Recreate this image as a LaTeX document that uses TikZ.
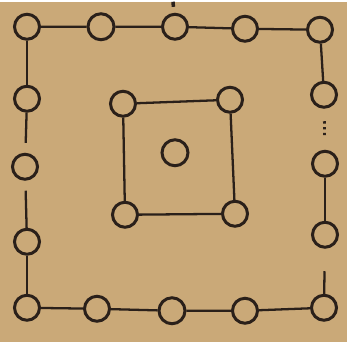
\documentclass[tikz,border=0pt]{standalone}
\usepackage{tikz}
\usetikzlibrary{calc}

\definecolor{paper}{RGB}{202,169,120}
\definecolor{ink}{RGB}{42,32,26}

\begin{document}
\begin{tikzpicture}[
    x=0.02cm, y=-0.02cm,
    % Node styles
    dot/.style={draw=ink, circle, line width=1.7pt, inner sep=0pt, minimum size=0.5cm},
    bigdot/.style={dot, minimum size=0.52cm},
    link/.style={draw=ink, line width=1.3pt},
    gap/.style={link, dotted, line width=1.6pt}
]

% Paper
\fill[paper] (0,0) rectangle (347,340);

% Outer square, top row
\node[dot] (o1) at (27,25) {};
\node[bigdot] (o2) at (101,25) {};
\node[dot] (o3) at (175,25) {};
\node[dot] (o4) at (245,27) {};
\node[dot] (o5) at (320,28) {};

% Outer square, right side
\node[dot] (r1) at (324,93) {};
\node[dot] (r2) at (325,162) {};
\node[dot] (r3) at (325,233) {};

% Outer square, bottom row
\node[dot] (b1) at (27,306) {};
\node[dot] (b2) at (97,307) {};
\node[bigdot] (b3) at (172,309) {};
\node[dot] (b4) at (245,309) {};
\node[dot] (b5) at (324,306) {};

% Outer square, left side
\node[dot] (l1) at (27,97) {};
\node[dot] (l2) at (25,165) {};
\node[dot] (l3) at (27,240) {};

% Inner square and centre
\node[dot] (i1) at (123,102) {};
\node[dot] (i2) at (230,98) {};
\node[dot] (i3) at (235,212) {};
\node[dot] (i4) at (125,213) {};
\node[bigdot] (c) at (175,151) {};

% Mark above the top row
\coordinate (tick) at (173,0);
\draw[link, line width=2pt, shorten >=0.12cm] (tick) -- (o3);

% Outer connectors
\draw[link] (o1) -- (o2) -- (o3) -- (o4) -- (o5);
\draw[link] (b1) -- (b2) -- (b3) -- (b4) -- (b5);
\draw[link] (o1) -- (l1);
\draw[link, shorten >=0.2cm] (l1) -- (l2);
\draw[link, shorten <=0.2cm] (l2) -- (l3);
\draw[link] (l3) -- (b1);
\draw[link] (o5) -- (r1);
\draw[gap, shorten <=0.25cm, shorten >=0.25cm] (r1) -- (r2);
\draw[link] (r2) -- (r3);
\draw[link, shorten <=0.45cm] (r3) -- (b5);

% Inner connectors
\draw[link] (i1) -- (i2) -- (i3) -- (i4) -- (i1);

\end{tikzpicture}
\end{document}
